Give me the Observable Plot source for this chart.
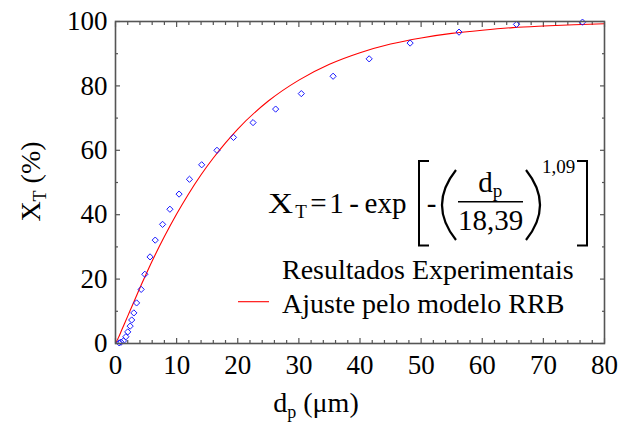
<!DOCTYPE html>
<html><head><meta charset="utf-8">
<script src="https://cdn.jsdelivr.net/npm/d3@7"></script>
<script src="https://cdn.jsdelivr.net/npm/@observablehq/plot@0.6"></script>
<style>body{margin:0;background:#fff} svg{display:block}</style>
</head><body><div id="chart"></div>
<script>
// Experimental points (d_p in µm, X_T in %)
const expDiameter = [0.6, 0.9, 1.3, 1.7, 2.0, 2.4, 2.65, 3.0, 3.45, 4.2, 4.8, 5.65, 6.5, 7.7, 8.9, 10.4, 12.1, 14.1, 16.6, 19.3, 22.5, 26.2, 30.4, 35.6, 41.5, 48.2, 56.2, 65.6, 76.4];
const expXT       = [0.2, 0.4, 0.8, 2.1, 3.6, 5.4, 7.3, 9.5, 12.6, 16.8, 21.5, 26.9, 32.1, 37.0, 41.7, 46.4, 51.0, 55.5, 60.0, 64.0, 68.6, 72.8, 77.6, 83.0, 88.4, 93.3, 96.7, 99.1, 99.8];
// RRB fit curve
const fitDiameter = [0, 0.5, 1, 2, 3, 4, 5, 6, 8, 10, 12, 14, 16, 18, 20, 25, 30, 35, 40, 45, 50, 55, 60, 65, 70, 75, 80];
const fitXT       = [0, 1.9, 4.1, 8.5, 12.9, 17.3, 21.5, 25.6, 33.2, 40.2, 46.6, 52.4, 57.6, 62.3, 66.6, 75.3, 81.8, 86.7, 90.3, 93.0, 94.9, 96.3, 97.3, 98.1, 98.6, 99.0, 99.3];
// Ticks
const xMajorTicks = [0, 10, 20, 30, 40, 50, 60, 70, 80];
const xMinorTicks = [2, 4, 6, 8, 12, 14, 16, 18, 22, 24, 26, 28, 32, 34, 36, 38, 42, 44, 46, 48, 52, 54, 56, 58, 62, 64, 66, 68, 72, 74, 76, 78];
const yMajorTicks = [0, 20, 40, 60, 80, 100];
const yMinorTicks = [10, 30, 50, 70, 90];
// Texts
const legendLabels = ["Resultados Experimentais", "Ajuste pelo modelo RRB"];

const expData = expDiameter.map((d, i) => ({d, xt: expXT[i]}));
const fitData = fitDiameter.map((d, i) => ({d, xt: fitXT[i]}));

const serif = "'Liberation Serif', 'Times New Roman', serif";
const axisColor = "#555";
const noText = () => "";

const plot = Plot.plot({
  width: 630, height: 422,
  marginLeft: 115, marginRight: 26, marginTop: 21, marginBottom: 79,
  style: {fontFamily: serif, background: "#fff", color: "#000"},
  x: {domain: [0, 80]},
  y: {domain: [0, 100]},
  marks: [
    Plot.axisX({anchor: "bottom", ticks: xMajorTicks, tickSize: 0, tickPadding: 11, fontSize: 27, label: null}),
    Plot.axisY({anchor: "left", ticks: yMajorTicks, tickSize: 0, tickPadding: 8, fontSize: 27, label: null}),
    Plot.axisX({anchor: "bottom", ticks: xMajorTicks, tickSize: -5, tickFormat: noText, label: null, stroke: axisColor, strokeWidth: 1.2}),
    Plot.axisX({anchor: "bottom", ticks: xMinorTicks, tickSize: -3, tickFormat: noText, label: null, stroke: axisColor, strokeWidth: 1.2}),
    Plot.axisX({anchor: "top", ticks: xMajorTicks, tickSize: -5, tickFormat: noText, label: null, stroke: axisColor, strokeWidth: 1.2}),
    Plot.axisX({anchor: "top", ticks: xMinorTicks, tickSize: -3, tickFormat: noText, label: null, stroke: axisColor, strokeWidth: 1.2}),
    Plot.axisY({anchor: "left", ticks: yMajorTicks, tickSize: -5, tickFormat: noText, label: null, stroke: axisColor, strokeWidth: 1.2}),
    Plot.axisY({anchor: "left", ticks: yMinorTicks, tickSize: -3, tickFormat: noText, label: null, stroke: axisColor, strokeWidth: 1.2}),
    Plot.axisY({anchor: "right", ticks: yMajorTicks, tickSize: -5, tickFormat: noText, label: null, stroke: axisColor, strokeWidth: 1.2}),
    Plot.axisY({anchor: "right", ticks: yMinorTicks, tickSize: -3, tickFormat: noText, label: null, stroke: axisColor, strokeWidth: 1.2}),
    Plot.line(fitData, {x: "d", y: "xt", stroke: "#ff0000", strokeWidth: 1.1, curve: "monotone-x"}),
    Plot.dot(expData, {x: "d", y: "xt", symbol: "diamond2", r: 2.8, stroke: "#1a1aff", strokeWidth: 1, fill: "none"}),
    Plot.frame({stroke: axisColor, strokeWidth: 1.6})
  ]
});

document.getElementById("chart").appendChild(plot);

// Annotations (axis titles, equation, legend)
const svg = d3.select(plot);
const g = svg.append("g").attr("font-family", serif).attr("fill", "#000");
function txt(str, x, y, size, anchor = "middle", sx = 1) {
  return g.append("text").attr("transform", `translate(${x},${y}) scale(${sx},1)`)
    .attr("font-size", size).attr("text-anchor", anchor).text(str);
}
function stroke(d, w = 2) {
  g.append("path").attr("d", d).attr("fill", "none").attr("stroke", "#000")
    .attr("stroke-width", w).attr("stroke-linecap", "butt");
}

// Y axis title
const yt = g.append("text").attr("transform", "translate(40,181.5) rotate(-90)")
  .attr("text-anchor", "middle").attr("font-size", 28);
yt.append("tspan").text("X");
yt.append("tspan").attr("font-size", 18).attr("dy", 6).text("T");
yt.append("tspan").attr("dy", -6).text(" (%)");

// X axis title
const xt = g.append("text").attr("x", 316).attr("y", 411.5).attr("font-size", 28);
xt.append("tspan").text("d");
xt.append("tspan").attr("font-size", 18).attr("dy", 6).text("p");
xt.append("tspan").attr("dy", -6).text(" (\u03bcm)");

// Equation
txt("X", 280.5, 212.7, 29, "middle", 1.2);
txt("T", 301, 217.5, 19);
txt("=", 318.5, 212.7, 29);
txt("1", 336.5, 212.7, 29);
txt("-", 354, 212.7, 29);
txt("exp", 385.5, 212.7, 29);
// left bracket
stroke("M429,161 H419 V245.5 H429", 2);
txt("-", 431.5, 212.7, 29);
// left parenthesis
stroke("M456,170 Q428,205 456,240", 2.2);
txt("d", 485.5, 191.7, 29);
txt("p", 497.5, 196.5, 19);
g.append("line").attr("x1", 458).attr("x2", 523).attr("y1", 201.7).attr("y2", 201.7)
  .attr("stroke", "#000").attr("stroke-width", 1.5);
txt("18,39", 490.5, 230, 29);
// right parenthesis
stroke("M526,170 Q554,205 526,240", 2.2);
txt("1,09", 558.5, 173, 19);
// right bracket
stroke("M577,161 H587 V245.5 H577", 2);

// Legend
txt(legendLabels[0], 282, 279.3, 28, "start");
txt(legendLabels[1], 282, 313.3, 28, "start");
g.append("line").attr("x1", 238).attr("x2", 269).attr("y1", 301.7).attr("y2", 301.7)
  .attr("stroke", "#ff0000").attr("stroke-width", 1.1);
</script>
</body></html>
